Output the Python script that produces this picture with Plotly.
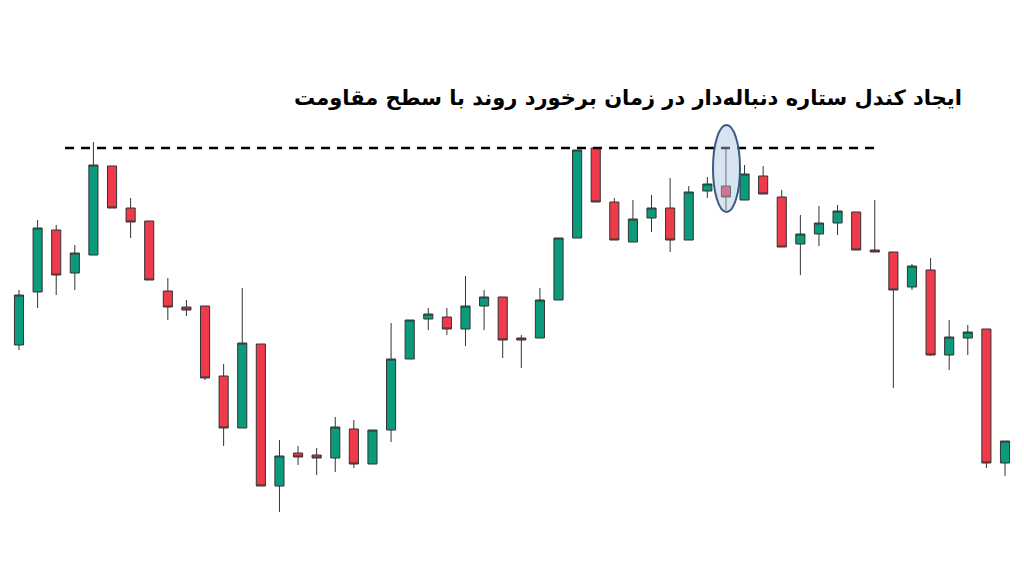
import plotly.graph_objects as go

# pixel-derived prices (576 - y)
ys_open  = [345,292,230,273,255,166,208,221,291,307,306,376,428,344,486,453,455,458,429,464,430,359,319,317,329,306,297,338,338,300,238,148,202,242,218,208,240,191,186,200,176,197,244,234,223,212,250,252,287,270,355,338,329,463]
ys_high  = [290,220,225,245,142,166,198,221,278,300,306,364,288,344,440,446,448,417,420,430,323,320,308,308,276,290,297,335,288,238,150,148,198,200,195,178,186,177,148,165,166,190,215,206,205,212,200,252,264,258,320,325,329,441]
ys_low   = [350,308,295,290,255,208,238,280,320,316,380,446,428,486,512,465,475,472,468,464,442,359,330,335,346,330,358,368,338,300,238,202,240,242,232,252,240,198,210,200,194,247,275,246,235,250,252,388,290,356,370,355,468,476]
ys_close = [295,228,275,253,165,208,222,280,307,310,378,428,343,486,456,457,458,427,464,430,359,320,314,329,306,297,340,340,300,238,150,202,240,219,208,240,192,184,197,174,194,247,234,223,211,250,252,290,266,355,337,332,463,441]

opens  = [576 - v for v in ys_open]
highs  = [576 - v for v in ys_high]
lows   = [576 - v for v in ys_low]
closes = [576 - v for v in ys_close]
x = list(range(len(opens)))

fig = go.Figure(go.Candlestick(
    x=x, open=opens, high=highs, low=lows, close=closes,
    increasing=dict(line=dict(color="#333333", width=1), fillcolor="#0c9a7c"),
    decreasing=dict(line=dict(color="#333333", width=1), fillcolor="#ef3a4c"),
    whiskerwidth=0
))

sp = (1005 - 19) / 53
def px2x(p):
    return (p - 19) / sp

fig.add_shape(type="line", x0=px2x(65), x1=px2x(880), y0=576-148, y1=576-148,
              line=dict(color="black", width=2.5, dash="9px,7px"))
fig.add_shape(type="circle", x0=px2x(713), x1=px2x(740), y0=576-212, y1=576-125,
              line=dict(color="#3d5a80", width=2), fillcolor="rgba(170,195,225,0.45)")

fig.add_annotation(text="<b>ایجاد کندل ستاره دنباله‌دار در زمان برخورد روند با سطح مقاومت</b>",
                   x=620/1024, y=1-76/576, xref="paper", yref="paper", showarrow=False,
                   font=dict(family="DejaVu Sans", size=21, color="black"))

fig.update_layout(
    width=1024, height=576, margin=dict(l=0, r=0, t=0, b=0),
    plot_bgcolor="white", paper_bgcolor="white", showlegend=False,
    xaxis=dict(range=[px2x(8), px2x(1032)], visible=False, rangeslider=dict(visible=False)),
    yaxis=dict(range=[-8, 568], visible=False),
)
fig.write_html("out.html")
